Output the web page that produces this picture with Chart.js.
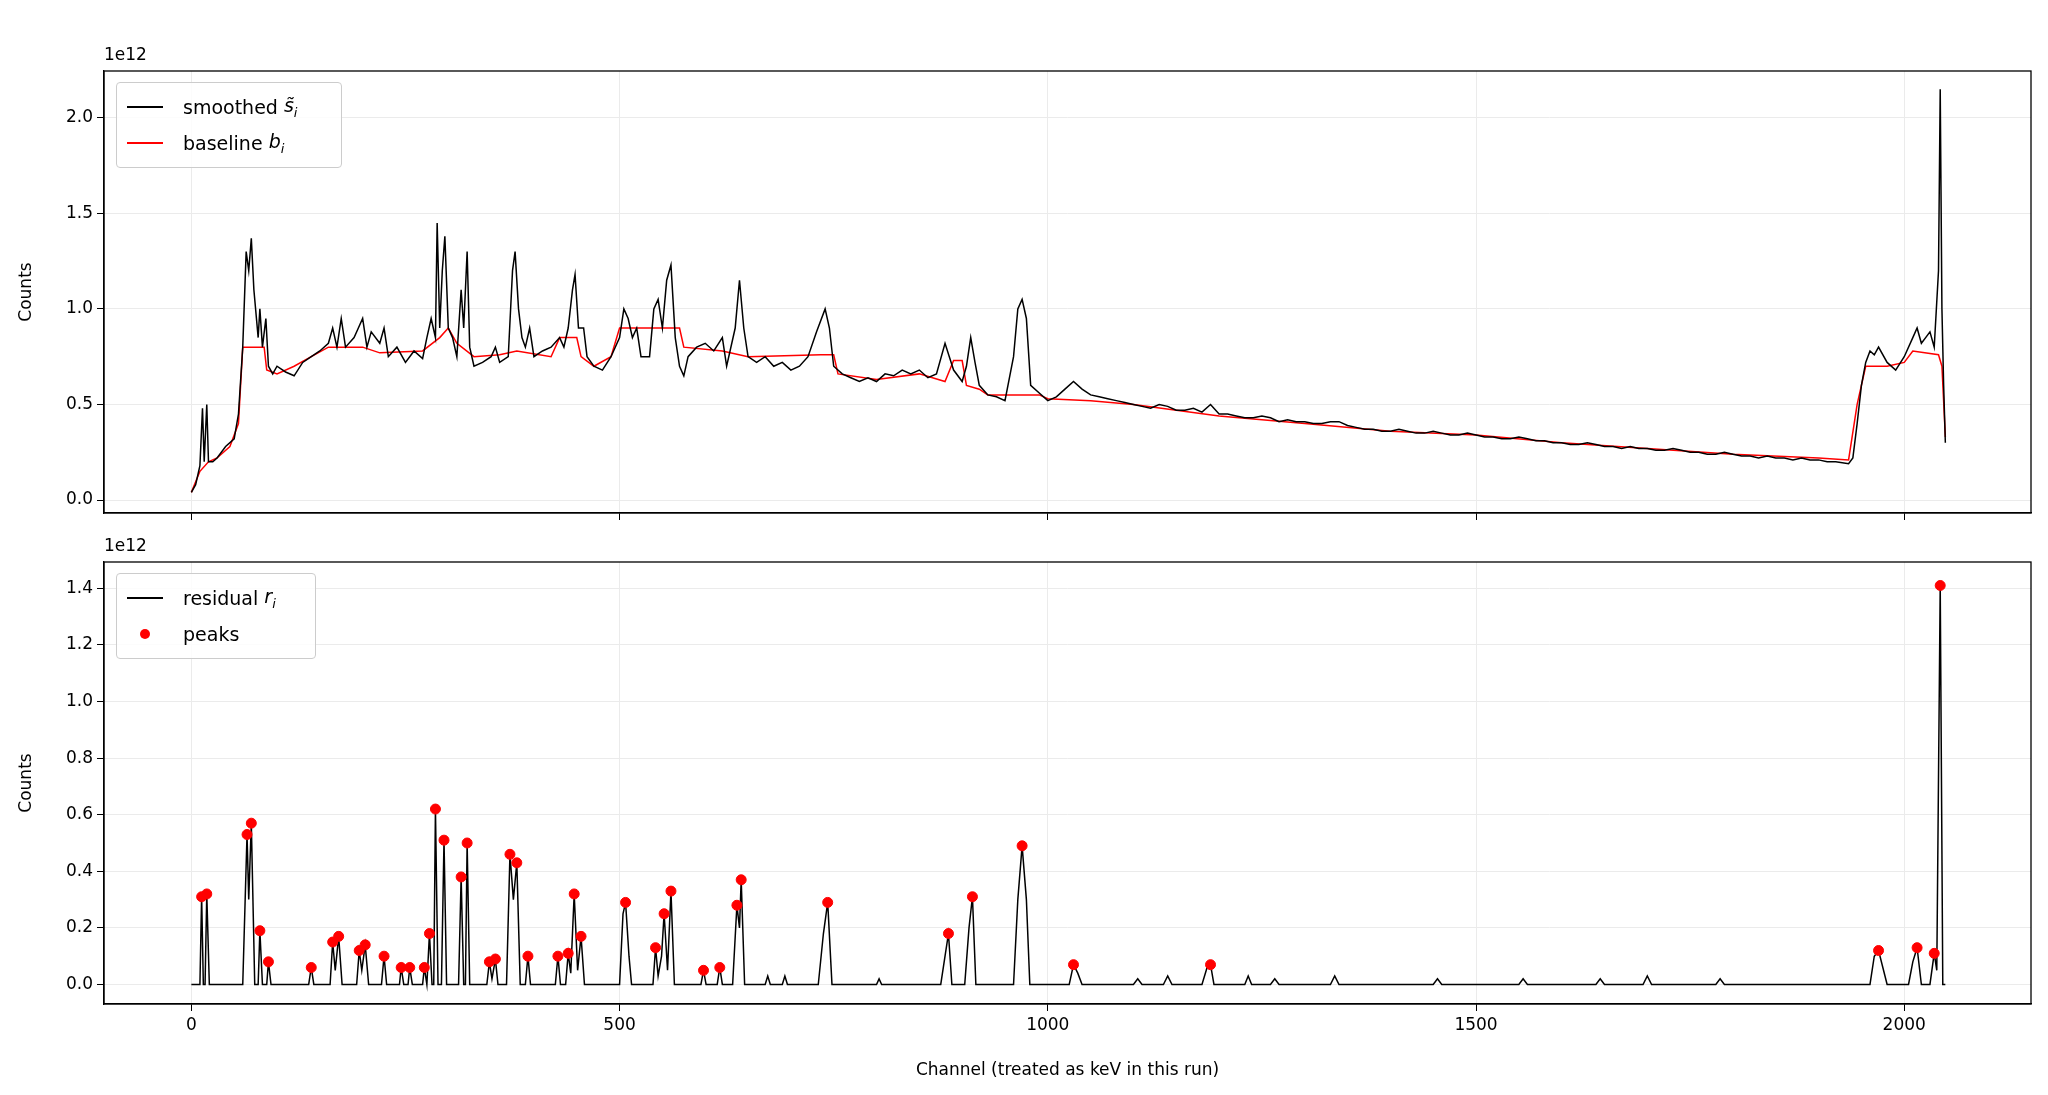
<!DOCTYPE html>
<html><head><meta charset="utf-8">
<script src="https://cdn.jsdelivr.net/npm/chart.js@4/dist/chart.umd.min.js"></script>
<style>
body{margin:0;background:#fff;width:2048px;height:1095px;position:relative;overflow:hidden;font-family:"DejaVu Sans",sans-serif}
.c{position:absolute;left:0;width:2048px}
.lab{position:absolute;font-size:17px;color:#000}
.leg{position:absolute;border:1px solid #ccc;border-radius:4px;background:rgba(255,255,255,0.85);font-size:19px;padding:6px 10px}
.row{display:flex;align-items:center;height:36px}
.ln{width:36px;height:0;border-top:2px solid;margin-right:20px}
.dot{width:36px;display:flex;justify-content:center;margin-right:20px}
.dot span{width:10px;height:10px;border-radius:50%;background:red}
</style></head><body>
<div class="c" style="top:0;height:540px"><canvas id="top"></canvas></div>
<div class="c" style="top:540px;height:555px"><canvas id="bot"></canvas></div>
<div class="lab" style="left:104px;top:44px">1e12</div>
<div class="lab" style="left:104px;top:535px">1e12</div>
<div class="leg" style="left:116px;top:82px;width:204px">
<div class="row"><div class="ln" style="border-color:#000"></div>smoothed&nbsp;<i>s̃<sub style="font-size:13px">i</sub></i></div>
<div class="row"><div class="ln" style="border-color:red"></div>baseline&nbsp;<i>b<sub style="font-size:13px">i</sub></i></div>
</div>
<div class="leg" style="left:116px;top:573px;width:178px">
<div class="row"><div class="ln" style="border-color:#000"></div>residual&nbsp;<i>r<sub style="font-size:13px">i</sub></i></div>
<div class="row"><div class="dot"><span></span></div>peaks</div>
</div>
<script>
// values in units of 1e12 counts
const smoothed=[[0,0.04],[5,0.08],[10,0.18],[13,0.48],[15,0.2],[18,0.5],[20,0.2],[25,0.2],[30,0.22],[40,0.28],[50,0.32],[55,0.45],[60,0.8],[64,1.3],[67,1.2],[70,1.37],[73,1.1],[78,0.85],[80,1.0],[83,0.8],[87,0.95],[90,0.7],[95,0.66],[100,0.7],[110,0.67],[120,0.65],[130,0.72],[140,0.75],[150,0.78],[160,0.82],[165,0.9],[170,0.8],[175,0.95],[180,0.8],[190,0.85],[195,0.9],[200,0.95],[205,0.8],[210,0.88],[220,0.82],[225,0.9],[230,0.75],[240,0.8],[250,0.72],[260,0.78],[270,0.74],[275,0.85],[280,0.95],[285,0.85],[287,1.45],[290,0.9],[293,1.2],[296,1.38],[300,0.9],[305,0.85],[310,0.75],[315,1.1],[318,0.9],[322,1.3],[325,0.8],[330,0.7],[340,0.72],[350,0.75],[355,0.8],[360,0.72],[370,0.75],[375,1.2],[378,1.3],[382,1.0],[386,0.85],[390,0.8],[395,0.9],[400,0.75],[410,0.78],[420,0.8],[430,0.85],[435,0.8],[440,0.9],[445,1.1],[448,1.18],[452,0.9],[458,0.9],[462,0.75],[470,0.7],[480,0.68],[490,0.75],[500,0.85],[505,1.0],[510,0.95],[515,0.85],[520,0.9],[525,0.75],[535,0.75],[540,1.0],[545,1.05],[550,0.9],[555,1.15],[560,1.23],[565,0.85],[570,0.7],[575,0.65],[580,0.75],[590,0.8],[600,0.82],[610,0.78],[620,0.85],[625,0.7],[635,0.9],[640,1.15],[645,0.9],[650,0.75],[660,0.72],[670,0.75],[680,0.7],[690,0.72],[700,0.68],[710,0.7],[720,0.75],[730,0.88],[740,1.0],[745,0.9],[750,0.7],[760,0.66],[770,0.64],[780,0.62],[790,0.64],[800,0.62],[810,0.66],[820,0.65],[830,0.68],[840,0.66],[850,0.68],[860,0.64],[870,0.66],[880,0.82],[885,0.75],[890,0.68],[900,0.62],[905,0.7],[910,0.85],[915,0.72],[920,0.6],[930,0.55],[940,0.54],[950,0.52],[960,0.75],[965,1.0],[970,1.05],[975,0.95],[980,0.6],[990,0.56],[1000,0.52],[1010,0.54],[1020,0.58],[1030,0.62],[1040,0.58],[1050,0.55],[1060,0.54],[1070,0.53],[1080,0.52],[1090,0.51],[1100,0.5],[1110,0.49],[1120,0.48],[1130,0.5],[1140,0.49],[1150,0.47],[1160,0.47],[1170,0.48],[1180,0.46],[1190,0.5],[1200,0.45],[1210,0.45],[1220,0.44],[1230,0.43],[1240,0.43],[1250,0.44],[1260,0.43],[1270,0.41],[1280,0.42],[1290,0.41],[1300,0.41],[1310,0.4],[1320,0.4],[1330,0.41],[1340,0.41],[1350,0.39],[1360,0.38],[1370,0.37],[1380,0.37],[1390,0.36],[1400,0.36],[1410,0.37],[1420,0.36],[1430,0.35],[1440,0.35],[1450,0.36],[1460,0.35],[1470,0.34],[1480,0.34],[1490,0.35],[1500,0.34],[1510,0.33],[1520,0.33],[1530,0.32],[1540,0.32],[1550,0.33],[1560,0.32],[1570,0.31],[1580,0.31],[1590,0.3],[1600,0.3],[1610,0.29],[1620,0.29],[1630,0.3],[1640,0.29],[1650,0.28],[1660,0.28],[1670,0.27],[1680,0.28],[1690,0.27],[1700,0.27],[1710,0.26],[1720,0.26],[1730,0.27],[1740,0.26],[1750,0.25],[1760,0.25],[1770,0.24],[1780,0.24],[1790,0.25],[1800,0.24],[1810,0.23],[1820,0.23],[1830,0.22],[1840,0.23],[1850,0.22],[1860,0.22],[1870,0.21],[1880,0.22],[1890,0.21],[1900,0.21],[1910,0.2],[1920,0.2],[1935,0.19],[1940,0.22],[1945,0.4],[1950,0.6],[1955,0.72],[1960,0.78],[1965,0.76],[1970,0.8],[1980,0.72],[1990,0.68],[2000,0.75],[2010,0.85],[2015,0.9],[2020,0.82],[2025,0.85],[2030,0.88],[2035,0.8],[2040,1.2],[2042,2.15],[2044,1.0],[2046,0.6],[2048,0.3]];
const baseline=[[0,0.04],[10,0.15],[20,0.2],[30,0.22],[45,0.28],[55,0.4],[60,0.8],[85,0.8],[88,0.68],[100,0.66],[120,0.7],[140,0.75],[160,0.8],[200,0.8],[220,0.77],[270,0.78],[290,0.85],[300,0.9],[310,0.82],[330,0.75],[360,0.76],[380,0.78],[420,0.75],[430,0.85],[450,0.85],[455,0.75],[470,0.7],[490,0.75],[500,0.9],[570,0.9],[575,0.8],[620,0.78],[650,0.75],[735,0.76],[750,0.76],[755,0.66],[800,0.63],[850,0.66],[880,0.62],[890,0.73],[900,0.73],[905,0.6],[920,0.58],[930,0.55],[990,0.55],[1000,0.53],[1050,0.52],[1100,0.5],[1200,0.44],[1300,0.4],[1400,0.36],[1500,0.34],[1600,0.3],[1700,0.27],[1800,0.24],[1900,0.22],[1935,0.21],[1945,0.5],[1955,0.7],[1980,0.7],[2000,0.72],[2010,0.78],[2040,0.76],[2044,0.7],[2048,0.33]];
const residual=[[0,0],[10,0],[12,0.31],[14,0],[16,0],[18,0.32],[21,0],[60,0],[65,0.53],[67,0.3],[70,0.57],[74,0],[78,0],[80,0.19],[83,0],[88,0],[90,0.08],[93,0],[137,0],[140,0.06],[143,0],[162,0],[165,0.15],[168,0.05],[172,0.17],[176,0],[193,0],[196,0.12],[199,0.05],[203,0.14],[207,0],[222,0],[225,0.1],[228,0],[243,0],[245,0.06],[248,0],[253,0],[255,0.06],[258,0],[270,0],[272,0.06],[275,0],[278,0.18],[281,0],[283,0],[285,0.62],[288,0],[292,0],[295,0.51],[298,0],[312,0],[315,0.38],[318,0],[320,0],[322,0.5],[325,0],[345,0],[348,0.08],[351,0.02],[355,0.09],[358,0],[368,0],[372,0.46],[376,0.3],[380,0.43],[384,0],[390,0],[393,0.1],[396,0],[425,0],[428,0.1],[431,0],[437,0],[440,0.11],[443,0.04],[447,0.32],[451,0.05],[455,0.17],[459,0],[500,0],[504,0.25],[507,0.29],[511,0.1],[514,0],[539,0],[542,0.13],[545,0.03],[549,0.1],[552,0.25],[556,0.05],[560,0.33],[564,0],[595,0],[598,0.05],[601,0],[614,0],[617,0.06],[620,0],[632,0],[637,0.28],[640,0.2],[642,0.37],[646,0],[670,0],[673,0.03],[676,0],[690,0],[693,0.03],[696,0],[732,0],[738,0.18],[743,0.29],[748,0],[800,0],[803,0.02],[806,0],[875,0],[880,0.1],[884,0.18],[888,0],[903,0],[908,0.2],[912,0.31],[916,0],[960,0],[965,0.3],[970,0.49],[975,0.3],[979,0],[1025,0],[1030,0.07],[1035,0.04],[1040,0],[1100,0],[1105,0.02],[1110,0],[1135,0],[1140,0.03],[1145,0],[1180,0],[1186,0.06],[1190,0.07],[1194,0],[1230,0],[1234,0.03],[1238,0],[1260,0],[1265,0.02],[1270,0],[1330,0],[1335,0.03],[1340,0],[1450,0],[1455,0.02],[1460,0],[1550,0],[1555,0.02],[1560,0],[1640,0],[1645,0.02],[1650,0],[1695,0],[1700,0.03],[1705,0],[1780,0],[1785,0.02],[1790,0],[1960,0],[1965,0.1],[1970,0.12],[1975,0.06],[1980,0],[2005,0],[2010,0.08],[2015,0.13],[2020,0],[2030,0],[2035,0.11],[2038,0.05],[2042,1.41],[2045,0],[2048,0]];
const peaks=[[12,0.31],[18,0.32],[65,0.53],[70,0.57],[80,0.19],[90,0.08],[140,0.06],[165,0.15],[172,0.17],[196,0.12],[203,0.14],[225,0.1],[245,0.06],[255,0.06],[272,0.06],[278,0.18],[285,0.62],[295,0.51],[315,0.38],[322,0.5],[348,0.08],[355,0.09],[372,0.46],[380,0.43],[393,0.1],[428,0.1],[440,0.11],[447,0.32],[455,0.17],[507,0.29],[542,0.13],[552,0.25],[560,0.33],[598,0.05],[617,0.06],[637,0.28],[642,0.37],[743,0.29],[884,0.18],[912,0.31],[970,0.49],[1030,0.07],[1190,0.07],[1970,0.12],[2015,0.13],[2035,0.11],[2042,1.41]];
const xTicks=[0,500,1000,1500,2000];
const yTicksTop=[0,0.5,1.0,1.5,2.0];
const yTicksBot=[0,0.2,0.4,0.6,0.8,1.0,1.2,1.4];

Chart.defaults.font.family='"DejaVu Sans",sans-serif';
Chart.defaults.font.size=17;
Chart.defaults.color='#000';
const pts=a=>a.map(p=>({x:p[0],y:p[1]}));
function mk(id,datasets,yMin,yMax,yt,showX,padTop,xH){
  return new Chart(document.getElementById(id),{
    type:'line',
    data:{datasets},
    options:{responsive:true,maintainAspectRatio:false,animation:false,
      layout:{padding:{top:padTop,right:17,left:0,bottom:0}},
      plugins:{legend:{display:false},tooltip:{enabled:false}},
      scales:{
        x:{type:'linear',min:-102,max:2148,
          afterBuildTicks:s=>{s.ticks=xTicks.map(v=>({value:v}));},
          afterFit:s=>{s.height=xH;},
          ticks:{display:showX,maxRotation:0,padding:4,callback:v=>String(v)},
          grid:{color:'#ebebeb',tickColor:'#000',tickLength:7},
          border:{color:'#000',width:1.3},
          title:{display:showX,text:'Channel (treated as keV in this run)',padding:{top:0,bottom:14}}},
        y:{min:yMin,max:yMax,
          afterBuildTicks:s=>{s.ticks=yt.map(v=>({value:v}));},
          afterFit:s=>{s.width=104;},
          ticks:{padding:4,callback:v=>v.toFixed(1)},
          grid:{color:'#ebebeb',tickColor:'#000',tickLength:7},
          border:{color:'#000',width:1.3},
          title:{display:true,text:'Counts',padding:{top:16,bottom:0}}}
      }}
  });
}
const frame={id:'frame',afterDraw(c){const a=c.chartArea,x=c.ctx;x.save();x.strokeStyle='#000';x.lineWidth=1.3;x.strokeRect(a.left,a.top,a.right-a.left,a.bottom-a.top);x.restore();}};
Chart.register(frame);
mk('top',[
  {data:pts(smoothed),borderColor:'#000',borderWidth:1.5,pointRadius:0,tension:0},
  {data:pts(baseline),borderColor:'red',borderWidth:1.5,pointRadius:0,tension:0}
],-0.068,2.245,yTicksTop,false,71,27);
mk('bot',[
  {data:pts(peaks),showLine:false,pointRadius:5,pointBackgroundColor:'red',pointBorderColor:'red'},
  {data:pts(residual),borderColor:'#000',borderWidth:1.5,pointRadius:0,tension:0}
],-0.069,1.493,yTicksBot,true,22,91);
</script></body></html>
